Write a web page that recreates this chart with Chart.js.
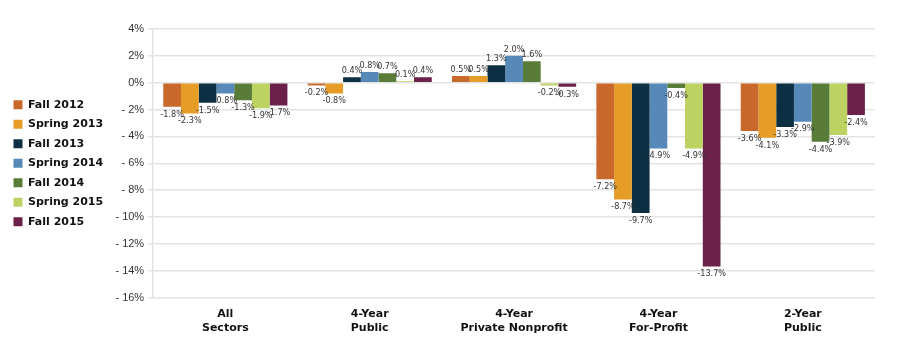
<!DOCTYPE html>
<html>
<head>
<meta charset="utf-8">
<script src="https://cdn.jsdelivr.net/npm/chart.js"></script>
<style>
  html, body { margin: 0; padding: 0; background: #fff; }
  #wrap { width: 900px; height: 361px; position: relative; }
</style>
</head>
<body>
<div id="wrap"><canvas id="grafico"></canvas></div>
<script>
// categorias y series
const sectores = [["All", "Sectors"], ["4-Year", "Public"], ["4-Year", "Private Nonprofit"], ["4-Year", "For-Profit"], ["2-Year", "Public"]];
const periodos = ["Fall 2012", "Spring 2013", "Fall 2013", "Spring 2014", "Fall 2014", "Spring 2015", "Fall 2015"];
const colores = ["#C8692B", "#E59D27", "#0C2F43", "#5688B8", "#5A7C39", "#BCD261", "#6B2149"];

const fall2012 = [-1.8, -0.2, 0.5, -7.2, -3.6];
const spring2013 = [-2.3, -0.8, 0.5, -8.7, -4.1];
const fall2013 = [-1.5, 0.4, 1.3, -9.7, -3.3];
const spring2014 = [-0.8, 0.8, 2.0, -4.9, -2.9];
const fall2014 = [-1.3, 0.7, 1.6, -0.4, -4.4];
const spring2015 = [-1.9, 0.1, -0.2, -4.9, -3.9];
const fall2015 = [-1.7, 0.4, -0.3, -13.7, -2.4];

const series = [fall2012, spring2013, fall2013, spring2014, fall2014, spring2015, fall2015];

const fuenteAngosta = "'Liberation Sans Narrow', 'DejaVu Sans', sans-serif";

// etiquetas de valor encima/debajo de cada barra
const etiquetas = {
  id: "etiquetas",
  afterDatasetsDraw(chart) {
    const ctx = chart.ctx;
    ctx.save();
    ctx.font = "normal condensed 9px " + fuenteAngosta;
    ctx.fillStyle = "#333";
    ctx.textAlign = "center";
    chart.data.datasets.forEach((ds, i) => {
      const meta = chart.getDatasetMeta(i);
      meta.data.forEach((bar, j) => {
        const v = ds.data[j];
        const txt = v.toFixed(1) + "%";
        if (v >= 0) {
          ctx.textBaseline = "bottom";
          ctx.fillText(txt, bar.x, bar.y - 2);
        } else {
          ctx.textBaseline = "top";
          ctx.fillText(txt, bar.x, bar.y + 3);
        }
      });
    });
    ctx.restore();
  }
};

window.addEventListener("load", () => {
  const ctx = document.getElementById("grafico").getContext("2d");

  const data = {
    labels: sectores,
    datasets: periodos.map((p, i) => ({
      label: p,
      data: series[i],
      backgroundColor: colores[i],
      borderWidth: 0,
      barPercentage: 1.0,
      categoryPercentage: 0.86
    }))
  };

  new Chart(ctx, {
    type: "bar",
    data: data,
    plugins: [etiquetas],
    options: {
      responsive: true,
      maintainAspectRatio: false,
      animation: false,
      layout: { padding: { top: 29, bottom: 24, left: 5, right: 25 } },
      plugins: {
        legend: {
          position: "left",
          align: "center",
          fullSize: false,
          labels: {
            color: "#111",
            boxWidth: 9,
            boxHeight: 9,
            padding: 8.5,
            font: { family: fuenteAngosta, style: "normal condensed", size: 11, weight: "bold" }
          }
        },
        tooltip: { enabled: false }
      },
      scales: {
        x: {
          grid: { display: false },
          border: { display: false },
          ticks: {
            color: "#111",
            maxRotation: 0,
            padding: 2,
            font: { family: fuenteAngosta, style: "normal condensed", size: 11, weight: "bold", lineHeight: 1.25 }
          }
        },
        y: {
          min: -16,
          max: 4,
          ticks: {
            stepSize: 2,
            color: "#333",
            padding: 4,
            font: { family: "'Liberation Sans', Arial, sans-serif", size: 11 },
            callback: v => (v < 0 ? "- " + Math.abs(v) : v) + "%"
          },
          grid: { color: "#e3e3e3", lineWidth: 1.5, tickLength: 5 },
          border: { color: "#e3e3e3", width: 1.5 },
          afterFit: s => { s.width = 40; }
        }
      }
    }
  });
});
</script>
</body>
</html>
